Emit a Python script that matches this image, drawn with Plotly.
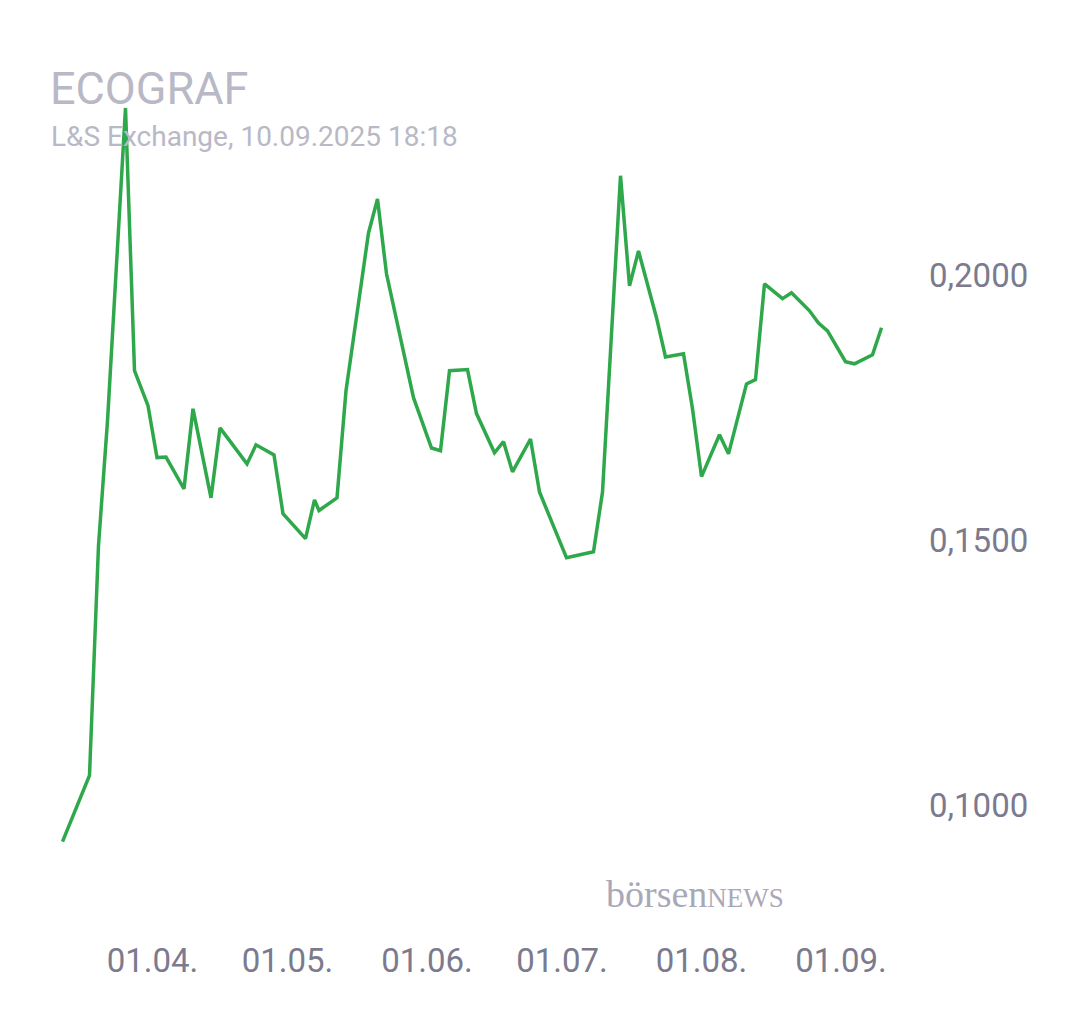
import plotly.graph_objects as go

dates = ["2025-03-12","2025-03-18","2025-03-20","2025-03-22","2025-03-26","2025-03-28","2025-03-31","2025-04-02","2025-04-04","2025-04-08",
"2025-04-10","2025-04-14","2025-04-16","2025-04-22","2025-04-24","2025-04-28","2025-04-30","2025-05-05","2025-05-07","2025-05-08",
"2025-05-12","2025-05-14","2025-05-19","2025-05-21","2025-05-23","2025-05-29","2025-06-02","2025-06-04","2025-06-06","2025-06-10",
"2025-06-12","2025-06-16","2025-06-18","2025-06-20","2025-06-24","2025-06-26","2025-06-30","2025-07-02","2025-07-08","2025-07-10",
"2025-07-14","2025-07-16","2025-07-18","2025-07-22","2025-07-24","2025-07-28","2025-07-30","2025-08-01","2025-08-05","2025-08-07",
"2025-08-11","2025-08-13","2025-08-15","2025-08-19","2025-08-21","2025-08-25","2025-08-27","2025-08-29","2025-09-02","2025-09-04",
"2025-09-08","2025-09-10"]
prices = [0.0932,0.1057,0.1491,0.1726,0.2317,0.1821,0.1755,0.1657,0.1658,0.1598,
0.1749,0.1581,0.1713,0.1645,0.1681,0.1662,0.1551,0.1504,0.1577,0.1557,
0.1581,0.1783,0.2081,0.2145,0.2004,0.1770,0.1675,0.1670,0.1821,0.1823,
0.1740,0.1666,0.1687,0.1630,0.1692,0.1592,0.1509,0.1468,0.1479,0.1592,
0.2189,0.1981,0.2047,0.1921,0.1847,0.1853,0.1749,0.1621,0.1700,0.1664,
0.1796,0.1804,0.1985,0.1957,0.1968,0.1934,0.1911,0.1896,0.1838,0.1834,
0.1851,0.1902]
xtick_vals = ["2025-04-01","2025-05-01","2025-06-01","2025-07-01","2025-08-01","2025-09-01"]
xtick_text = ["01.04.","01.05.","01.06.","01.07.","01.08.","01.09."]
ytick_vals = [0.10, 0.15, 0.20]
ytick_text = ["0,1000","0,1500","0,2000"]

L, R, T, B = 50, 202, 56, 136
W, H = 1080, 1013
pw, ph = W - L - R, H - T - B
def px(x): return (x - L) / pw
def py(y): return (H - y - B) / ph  # y in pixels from top

fig = go.Figure(go.Scatter(x=dates, y=prices, mode="lines",
                           line=dict(color="#2ea84a", width=3.5), hoverinfo="skip"))
fig.update_layout(
    width=W, height=H, plot_bgcolor="white", paper_bgcolor="white",
    margin=dict(l=L, r=R, t=T, b=B), showlegend=False,
    font=dict(family="Roboto", color="#7b7a8e"),
    xaxis=dict(range=["2025-03-11","2025-09-11"], tickvals=xtick_vals, ticktext=xtick_text,
               showgrid=False, zeroline=False, showline=False, ticks="",
               tickfont=dict(size=33, color="#7b7a8e"), ticklabelstandoff=53),
    yaxis=dict(range=[0.085, 0.24], tickvals=ytick_vals, ticktext=ytick_text, side="right",
               showgrid=False, zeroline=False, showline=False, ticks="",
               tickfont=dict(size=33, color="#7b7a8e"), ticklabelstandoff=42),
    annotations=[
        dict(text="ECOGRAF", x=px(40), y=py(52), xref="paper", yref="paper", showarrow=False,
             font=dict(size=45, color="#b9b8c6", family="Roboto"), xanchor="left", yanchor="top"),
        dict(text="L&S Exchange, 10.09.2025 18:18", x=px(41), y=py(110), xref="paper", yref="paper",
             showarrow=False, font=dict(size=28, color="#b9b8c6", family="Roboto"),
             xanchor="left", yanchor="top"),
        dict(text="börsen<span style='font-size:27px'>NEWS</span>", x=px(778), y=py(886),
             xref="paper", yref="paper", showarrow=False,
             font=dict(size=38, color="#a9a8b8", family="Liberation Serif"),
             xanchor="right", yanchor="middle"),
    ],
)
fig.write_html("out.html")
